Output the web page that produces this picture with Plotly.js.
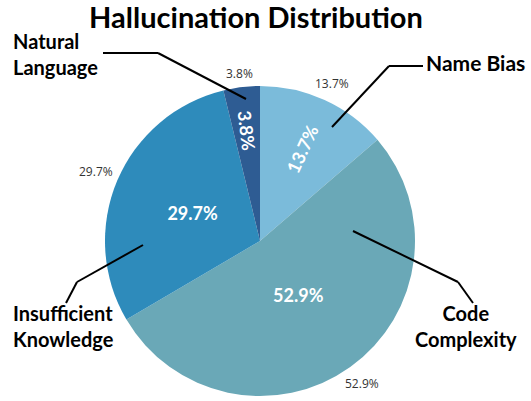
<!DOCTYPE html>
<html>
<head>
<meta charset="utf-8">
<script src="https://cdn.plot.ly/plotly-3.0.1.min.js"></script>
<style>html,body{margin:0;padding:0;background:#fff;}#chart{width:531px;height:401px;}</style>
</head>
<body>
<div id="chart"></div>
<script>
// Data
const categories = ["Name Bias", "Code Complexity", "Insufficient Knowledge", "Natural Language"];
const values = [13.7, 52.9, 29.7, 3.8];
const sliceColors = ["#7BBBDA", "#6AA8B7", "#2E8BBB", "#2E5C93"];
// inside label style per slice: "radial" (library), "horizontal" (library), "down" (rotated reading downward)
const insideStyle = ["radial", "horizontal", "horizontal", "down"];
const labelTexts = ["Name Bias", "Code<br>Complexity", "Insufficient<br>Knowledge", "Natural<br>Language"];

const W = 531, H = 401;
const px = x => x / W;
const py = y => 1 - y / H;

// pie placement (pixel frame)
const cx = 260, cy = 241, R = 155;
const dom = r => ({ x: [px(cx - r), px(cx + r)], y: [py(cy + r), py(cy - r)] });

const labelFont = "Lato, 'Noto Sans', sans-serif";
const clear = categories.map(() => "rgba(0,0,0,0)");
const base = {
  type: "pie", labels: categories, values: values, sort: false,
  direction: "clockwise", rotation: 0, showlegend: false, hoverinfo: "skip"
};
const inFont = { color: "#ffffff", size: 18, family: labelFont, weight: 700 };

const radialTrace = Object.assign({}, base, {
  domain: dom(R),
  marker: { colors: sliceColors, line: { width: 0 } },
  texttemplate: insideStyle.map(s => s === "radial" ? "%{value}%" : ""),
  textposition: "inside",
  insidetextorientation: "radial",
  insidetextfont: inFont
});
const horizTrace = Object.assign({}, base, {
  domain: dom(R * 0.85),
  marker: { colors: clear, line: { width: 0 } },
  texttemplate: insideStyle.map(s => s === "horizontal" ? "%{value}%" : ""),
  textposition: "inside",
  insidetextorientation: "horizontal",
  insidetextfont: inFont
});

// slice mid-angles (degrees clockwise from 12 o'clock) derived from the values
const total = values.reduce((a, b) => a + b, 0);
const midAngles = [];
let acc = 0;
values.forEach(v => { midAngles.push((acc + v / 2) / total * 360); acc += v; });

const annotations = [];
// outside percentage labels at each slice's mid-angle
values.forEach((v, i) => {
  const t = v + "%";
  const a = midAngles[i] * Math.PI / 180;
  const ux = Math.sin(a), uy = -Math.cos(a);
  const w = t.length * 6.6, h = 14;
  const r = R + 5 + Math.abs(ux) * w / 2 + Math.abs(uy) * h / 2;
  annotations.push({
    text: t, xref: "paper", yref: "paper",
    x: px(cx + ux * r), y: py(cy + uy * r), xanchor: "center", yanchor: "middle",
    showarrow: false, font: { color: "#333333", size: 12, family: "'Open Sans', sans-serif" }
  });
});
// rotated inside label for thin slice
values.forEach((v, i) => {
  if (insideStyle[i] !== "down") return;
  let ang = midAngles[i]; if (ang > 180) ang -= 360;
  const a = ang * Math.PI / 180;
  const r = R * 0.72;
  annotations.push({
    text: v + "%", xref: "paper", yref: "paper",
    x: px(cx + Math.sin(a) * r), y: py(cy - Math.cos(a) * r), xanchor: "center", yanchor: "middle",
    textangle: 90 + ang, showarrow: false, font: inFont
  });
});

// connector polylines (pixel anchors)
const connectors = [
  [[423, 66], [389, 66], [332, 127]],
  [[473, 303], [458, 282], [353, 231]],
  [[66, 303], [77, 282], [143, 245]],
  [[103, 53], [158, 53], [246, 99]]
];
const shapes = [];
connectors.forEach(pts => {
  for (let i = 0; i < pts.length - 1; i++) {
    shapes.push({
      type: "line", xref: "paper", yref: "paper",
      x0: px(pts[i][0]), y0: py(pts[i][1]), x1: px(pts[i + 1][0]), y1: py(pts[i + 1][1]),
      line: { color: "#000000", width: 2 }
    });
  }
});

const labelPos = [
  { x: 424, y: 63, xanchor: "left", align: "left", size: 21 },
  { x: 466, y: 326, xanchor: "center", align: "center", size: 20 },
  { x: 11, y: 326, xanchor: "left", align: "left", size: 20 },
  { x: 11, y: 54, xanchor: "left", align: "left", size: 20 }
];
labelTexts.forEach((t, i) => {
  const p = labelPos[i];
  annotations.push({
    text: t, xref: "paper", yref: "paper",
    x: px(p.x), y: py(p.y), xanchor: p.xanchor, yanchor: "middle", align: p.align,
    showarrow: false,
    font: { family: labelFont, size: p.size, color: "#000000", weight: 700 }
  });
});

const layout = {
  width: W, height: H,
  margin: { l: 0, r: 0, t: 0, b: 0 },
  paper_bgcolor: "#ffffff",
  title: {
    text: "Hallucination Distribution",
    x: px(256), xanchor: "center", y: py(18), yanchor: "middle",
    font: { family: labelFont, size: 29, color: "#000000", weight: 700 }
  },
  shapes: shapes,
  annotations: annotations,
  showlegend: false
};

Plotly.newPlot("chart", [radialTrace, horizTrace], layout, { displayModeBar: false, staticPlot: true });
</script>
</body>
</html>
